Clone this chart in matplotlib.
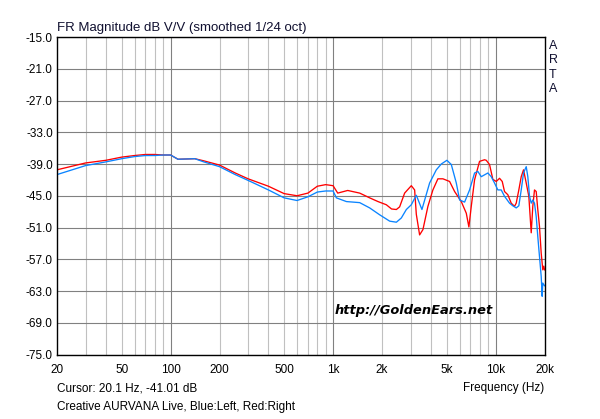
import numpy as np
import matplotlib
matplotlib.use('Agg')
import matplotlib.pyplot as plt
from matplotlib.ticker import FixedLocator, NullLocator

plt.rcParams['font.family'] = ['Liberation Sans', 'DejaVu Sans']

# left channel (blue), Hz / dB
freq_left = [20, 30, 40, 50, 60, 70, 80, 90, 100, 111, 141, 160, 200, 250, 300, 400,
             500, 600, 700, 800, 900, 1000, 1048, 1208, 1458, 1680, 1935, 2230, 2452,
             2630, 2824, 3030, 3252, 3522, 3926, 4318, 4634, 5016, 5340, 5732, 6006,
             6446, 6918, 7424, 7778, 8162, 8962, 9404, 9856, 10324, 10832, 11350,
             12184, 12766, 13396, 13900, 14380, 14858, 15438, 15790, 16176, 16568,
             16944, 17356, 17780, 18186, 18630, 19082, 19354, 19520, 20000]
db_left = [-41.0, -39.3, -38.6, -38.0, -37.6, -37.4, -37.4, -37.3, -37.3, -38.1, -38.0,
           -38.6, -39.5, -41.0, -42.1, -43.9, -45.4, -45.9, -45.2, -44.3, -44.1, -44.1,
           -45.4, -46.1, -46.3, -47.3, -48.6, -49.8, -50.0, -49.2, -47.6, -46.7, -44.9,
           -47.6, -42.6, -40.1, -39.0, -38.3, -39.1, -42.6, -45.8, -46.2, -43.9, -40.7,
           -40.4, -41.4, -40.7, -41.4, -42.6, -43.9, -43.9, -45.1, -46.4, -46.9, -47.3,
           -46.9, -43.9, -40.7, -39.5, -41.4, -45.1, -46.4, -45.8, -46.4, -48.9, -52.7,
           -56.5, -60.2, -64.0, -61.5, -62.0]

# right channel (red), Hz / dB
freq_right = [20, 30, 40, 50, 60, 70, 80, 90, 100, 111, 141, 160, 200, 250, 300, 400,
              500, 600, 700, 800, 900, 1000, 1068, 1230, 1458, 1680, 1890, 2126, 2290,
              2452, 2568, 2756, 3030, 3176, 3252, 3408, 3572, 3834, 4114, 4416, 4742,
              5212, 5596, 6152, 6602, 6850, 7086, 7424, 7968, 8552, 8762, 9180, 9620,
              10094, 10576, 10988, 11350, 11892, 12480, 13078, 13396, 13900, 14380,
              14858, 15438, 16016, 16568, 16944, 17356, 17780, 18186, 18630, 19082,
              19520, 19798, 20000]
db_right = [-40.1, -38.8, -38.3, -37.7, -37.4, -37.2, -37.2, -37.3, -37.3, -38.1, -38.0,
            -38.4, -39.2, -40.7, -41.8, -43.2, -44.6, -45.0, -44.5, -43.2, -42.9, -43.1,
            -44.5, -44.0, -44.5, -45.4, -46.1, -46.7, -47.5, -47.6, -47.1, -44.5, -43.1,
            -43.9, -48.5, -52.4, -51.4, -47.0, -43.9, -41.8, -41.8, -42.3, -44.2, -46.1,
            -48.3, -50.9, -47.0, -42.0, -38.5, -38.2, -38.3, -39.1, -41.9, -42.3, -41.7,
            -42.3, -44.2, -44.8, -46.4, -47.0, -46.4, -43.9, -41.4, -40.1, -42.6, -45.1,
            -52.0, -47.0, -43.9, -44.2, -47.6, -50.8, -55.8, -59.0, -58.3, -59.0]

yticks = [-15, -21, -27, -33, -39, -45, -51, -57, -63, -69, -75]
xticks = [20, 50, 100, 200, 500, 1000, 2000, 5000, 10000, 20000]
xtick_labels = ['20', '50', '100', '200', '500', '1k', '2k', '5k', '10k', '20k']
decade_lines = [100, 1000, 10000]
minor_lines = [30, 40, 50, 60, 70, 80, 90, 200, 300, 400, 500, 600, 700, 800, 900,
               2000, 3000, 4000, 5000, 6000, 7000, 8000, 9000]

fig = plt.figure(figsize=(6.0, 4.19), dpi=100)
ax = fig.add_axes([57 / 600, 1 - 354.5 / 419, 487.5 / 600, 317.5 / 419])

for f in minor_lines:
    ax.axvline(f, color='#c0c0c0', lw=0.8, zorder=1)
for f in decade_lines:
    ax.axvline(f, color='#808080', lw=0.8, zorder=1)
for v in yticks:
    ax.axhline(v, color='#808080', lw=0.8, zorder=1)

ax.plot(freq_right, db_right, color='#ff0000', lw=0.95, zorder=3)
ax.plot(freq_left, db_left, color='#0a84ff', lw=0.95, zorder=3)

ax.set_xscale('log')
ax.set_xlim(20, 20000)
ax.set_ylim(-75, -15)
ax.xaxis.set_major_locator(FixedLocator(xticks))
ax.xaxis.set_minor_locator(NullLocator())
ax.set_xticklabels(xtick_labels)
ax.set_yticks(yticks)
ax.set_yticklabels(['%.1f' % v for v in yticks])
ax.tick_params(axis='both', length=0, labelsize=8.5, colors='black')
ax.tick_params(axis='x', pad=7)
ax.tick_params(axis='y', pad=3)
for s in ax.spines.values():
    s.set_color('black')
    s.set_linewidth(1.0)
    s.set_zorder(4)

fig.text(57 / 600, 1 - 31 / 419, 'FR Magnitude dB V/V (smoothed 1/24 oct)',
         fontsize=9.5, ha='left', va='baseline', color='#101030')
fig.text(553 / 600, 1 - 40 / 419, 'A\nR\nT\nA', fontsize=9, ha='center', va='top',
         linespacing=1.25, color='#101030')
fig.text(57 / 600, 1 - 388 / 419, 'Cursor: 20.1 Hz, -41.01 dB', fontsize=8.5,
         ha='left', va='center')
fig.text(544 / 600, 1 - 388 / 419, 'Frequency (Hz)', fontsize=8.5, ha='right', va='center')
fig.text(57 / 600, 1 - 407 / 419, 'Creative AURVANA Live, Blue:Left, Red:Right',
         fontsize=8.5, ha='left', va='center')
ax.text(0.732, 0.14, 'http://GoldenEars.net', transform=ax.transAxes, fontsize=9.4,
        family='DejaVu Sans', fontweight='bold', fontstyle='italic', ha='center',
        va='center', zorder=5)

fig.savefig('out.png', dpi=100)
